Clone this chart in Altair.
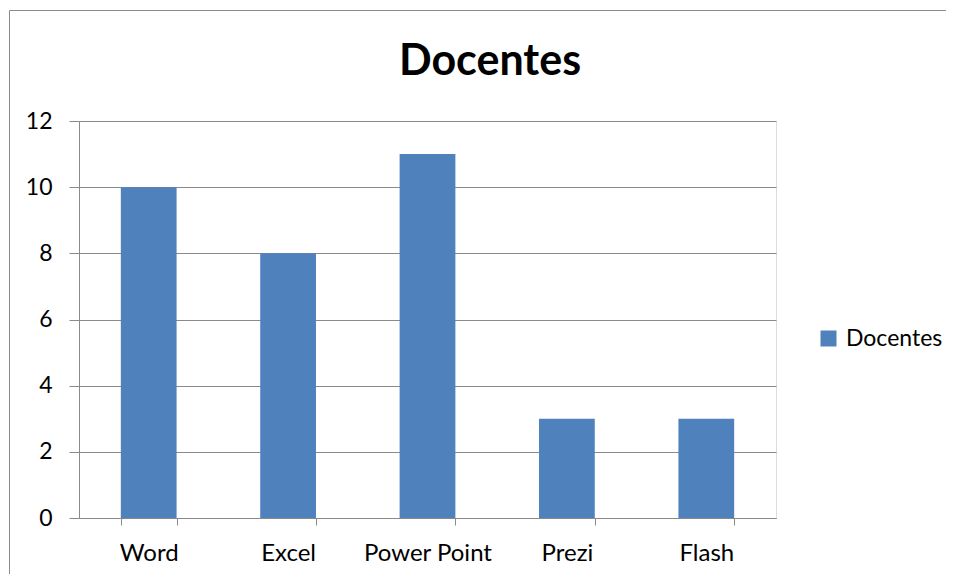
import altair as alt
import pandas as pd

categories = ["Word", "Excel", "Power Point", "Prezi", "Flash"]
values = [10, 8, 11, 3, 3]
series = "Docentes"
chart_title = "Docentes"
y_ticks = [0, 2, 4, 6, 8, 10, 12]

df = pd.DataFrame({"cat": categories, "val": values, "serie": [series] * len(categories)})

FONT = "Lato"
GRID = "#8a8a8a"

bars = alt.Chart(df).mark_bar(color="#4F81BD").encode(
    x=alt.X("cat:N", sort=categories,
            scale=alt.Scale(paddingInner=0.6, paddingOuter=0.3),
            axis=alt.Axis(title=None, labelAngle=0, tickBand="extent", tickSize=7,
                          labelPadding=16, domainColor=GRID, tickColor=GRID,
                          labelFont=FONT, labelFontSize=24, labelColor="#000000", grid=False)),
    y=alt.Y("val:Q", scale=alt.Scale(domain=[0, 12]),
            axis=alt.Axis(title=None, values=y_ticks, tickSize=10, labelPadding=17,
                          domainColor=GRID, tickColor=GRID, gridColor=GRID,
                          labelFont=FONT, labelFontSize=23, labelColor="#000000")),
    fill=alt.Fill("serie:N", scale=alt.Scale(range=["#4F81BD"]),
                  legend=alt.Legend(title=None, orient="none", legendX=738, legendY=206,
                                    symbolType="square", symbolSize=256, symbolStrokeWidth=0,
                                    labelFont=FONT, labelFontSize=23, labelColor="#000000",
                                    labelOffset=6)),
)

border = alt.Chart(alt.Data(values=[{}])).mark_rect(
    fill="transparent", stroke="#8c8c8c", strokeWidth=1
).encode(
    x=alt.value(-69.5), x2=alt.value(900),
    y=alt.value(-110.5), y2=alt.value(520),
)

title = alt.Chart(pd.DataFrame({"t": [chart_title]})).mark_text(
    font=FONT, fontSize=43, fontWeight="bold", color="#000000",
    align="center", baseline="alphabetic"
).encode(
    text="t:N", x=alt.value(411), y=alt.value(-46),
)

chart = alt.layer(border, bars, title).properties(
    width=697, height=397,
    autosize=alt.AutoSizeParams(type="none"),
    padding={"left": 71, "top": 113, "right": 170, "bottom": 56},
).configure_view(strokeWidth=0).configure(background="white")

chart.save("out.html", embed_options={"renderer": "svg", "actions": False})
